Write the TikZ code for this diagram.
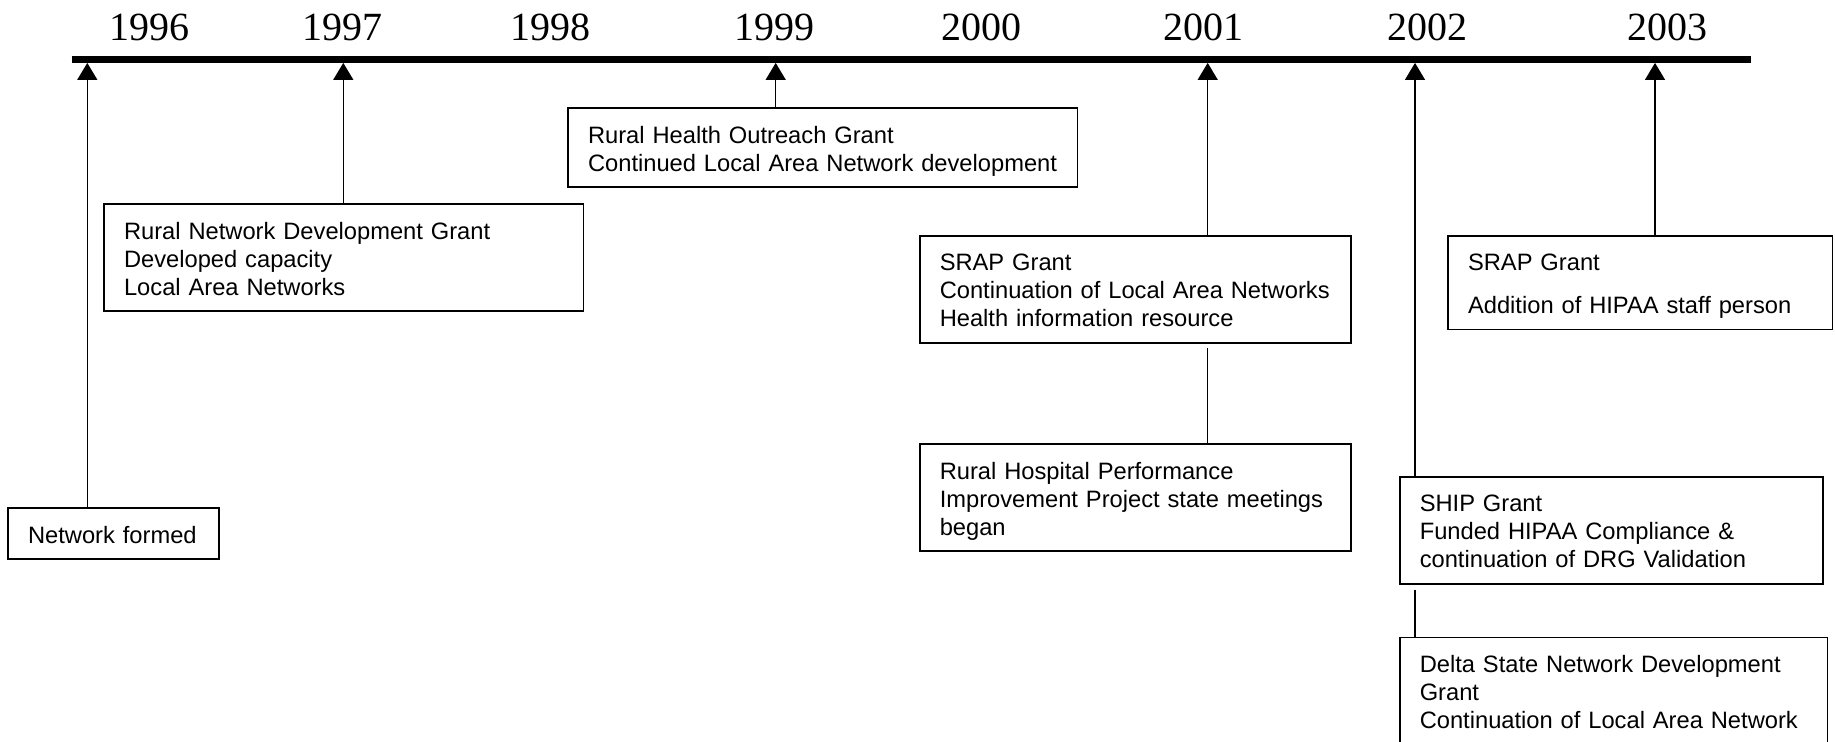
\documentclass[tikz,border=0pt]{standalone}
\usepackage{fontspec}
\setmainfont{Liberation Sans}
\newfontfamily\yearfont{Liberation Serif}
\usetikzlibrary{arrows.meta}
\tikzset{
  evbox/.style={draw,line width=0.75pt,anchor=north west,align=left,
    inner xsep=6pt,inner ysep=5pt,font=\fontsize{11.85}{14}\selectfont,
    execute at begin node={\leftskip=4pt\relax\rule{0pt}{12.5pt}},
    execute at end node={\rule[-3pt]{0pt}{3pt}}},
  yearlbl/.style={anchor=base,inner sep=0pt,font=\yearfont\fontsize{20}{24}\selectfont},
  evarrow/.style={line width=0.65pt,-{Triangle[length=8.5pt,width=10pt]}},
  evlink/.style={line width=0.65pt}
}
\begin{document}
\begin{tikzpicture}[x=0.5pt,y=-0.5pt]
        \useasboundingbox (0,0) rectangle (1835,741);
        \coordinate (barL) at (71.7,59.3);
        \coordinate (barR) at (1751,59.3);
        \draw[line width=3.3pt] (barL)--(barR);
        \foreach \yr/\xx in {1996/149,1997/342,1998/550,1999/774,2000/981,2001/1203.5,2002/1427.7,2003/1667.5}
            \node[yearlbl] (y\yr) at (\xx,40) {\yr};
        \foreach \yr/\xx in {1996/87.3,1997/343.3,1999/775.7,2001/1207.7,2002/1415,2003/1655}
            \coordinate (t\yr) at (\xx,62.9);
        \node[evbox,text width=93.5pt] (formed) at (7.3,507.3) {Network formed};
        \node[evbox,text width=227.7pt] (rndg) at (103.3,203.3) {Rural Network Development Grant\\Developed capacity\\Local Area Networks};
        \node[evbox,text width=242.7pt] (rhog) at (567.3,107.3) {Rural Health Outreach Grant\\Continued Local Area Network development};
        \node[evbox,text width=203.5pt] (srapa) at (919,235) {SRAP Grant\\Continuation of Local Area Networks\\Health information resource};
        \node[evbox,text width=203.5pt] (rhpip) at (919,443.3) {Rural Hospital Performance\\Improvement Project state meetings\\began};
        \node[evbox,text width=180.3pt] (srapb) at (1447.3,235) {SRAP Grant\\[7.3pt]Addition of HIPAA staff person};
        \node[evbox,text width=199.5pt] (ship) at (1399,476) {SHIP Grant\\Funded HIPAA Compliance \&\\continuation of DRG Validation};
        \node[evbox,text width=201.8pt] (dsnd) at (1399,636.7) {Delta State Network Development\\Grant\\Continuation of Local Area Network};
        \draw[evarrow] (t1996 |- formed.north)--(t1996);
        \draw[evarrow] (t1997 |- rndg.north)--(t1997);
        \draw[evarrow] (t1999 |- rhog.north)--(t1999);
        \draw[evarrow] (t2001 |- srapa.north)--(t2001);
        \draw[evarrow] (t2002 |- ship.north)--(t2002);
        \draw[evarrow] (t2003 |- srapb.north)--(t2003);
        \draw[evlink,shorten <=2pt] (t2001 |- srapa.south)--(t2001 |- rhpip.north);
        \draw[evlink,shorten <=2.5pt] (t2002 |- ship.south)--(t2002 |- dsnd.north);
\end{tikzpicture}
\end{document}
